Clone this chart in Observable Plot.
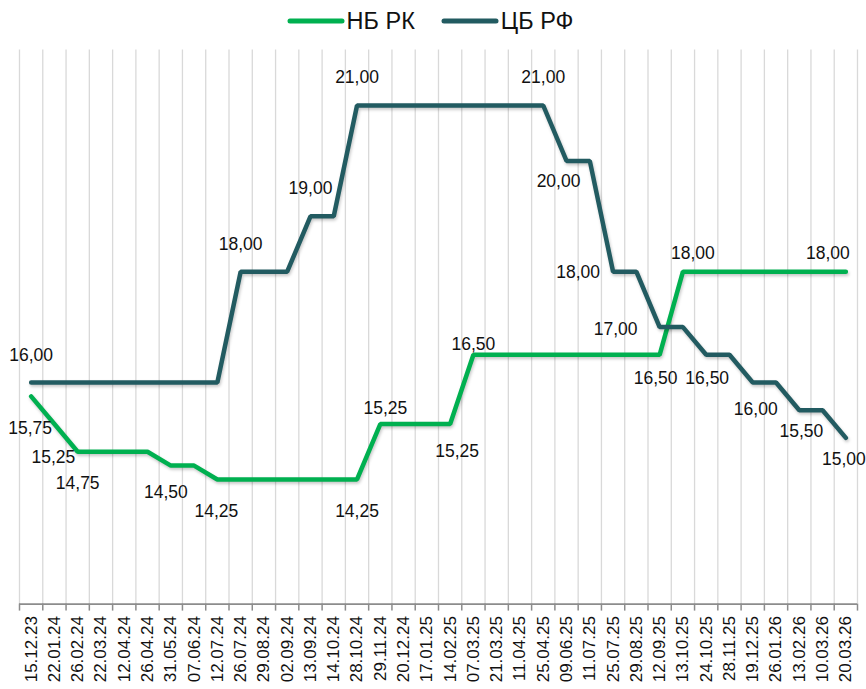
<!DOCTYPE html>
<html>
<head>
<meta charset="utf-8">
<script src="https://cdn.jsdelivr.net/npm/d3@7"></script>
<script src="https://cdn.jsdelivr.net/npm/@observablehq/plot@0.6"></script>
<style>
  html, body { margin: 0; padding: 0; background: #fff; }
  body { width: 866px; height: 689px; overflow: hidden; font-family: "Liberation Sans", Arial, sans-serif; }
  #legend { height: 42px; display: flex; justify-content: center; align-items: center; padding-right: 6px; box-sizing: border-box; }
  .item { display: flex; align-items: center; font-size: 23.5px; color: #111; }
  .item svg { margin-right: 2px; }
  .item + .item { margin-left: 26px; }
  #chart svg { display: block; }
</style>
</head>
<body>
<div id="legend"></div>
<div id="chart"></div>
<script>
// ---- data ----
const dates = ["15.12.23","22.01.24","26.02.24","22.03.24","12.04.24","26.04.24","31.05.24","07.06.24","12.07.24","26.07.24","29.08.24","02.09.24","13.09.24","14.10.24","28.10.24","29.11.24","20.12.24","17.01.25","14.02.25","07.03.25","21.03.25","11.04.25","25.04.25","09.06.25","11.07.25","25.07.25","29.08.25","12.09.25","13.10.25","24.10.25","28.11.25","19.12.25","26.01.26","13.02.26","10.03.26","20.03.26"];
const nbrk = [15.75,15.25,14.75,14.75,14.75,14.75,14.5,14.5,14.25,14.25,14.25,14.25,14.25,14.25,14.25,15.25,15.25,15.25,15.25,16.5,16.5,16.5,16.5,16.5,16.5,16.5,16.5,16.5,18,18,18,18,18,18,18,18];
const cbrf = [16,16,16,16,16,16,16,16,16,18,18,18,19,19,21,21,21,21,21,21,21,21,21,20,20,18,18,17,17,16.5,16.5,16,16,15.5,15.5,15];
const seriesNames = ["НБ РК", "ЦБ РФ"];
// labelled points by date
const nbrkLabelDates = ["15.12.23","22.01.24","26.02.24","31.05.24","12.07.24","28.10.24","29.11.24","14.02.25","07.03.25","12.09.25","13.10.25","20.03.26"];
const cbrfLabelDates = ["15.12.23","26.07.24","13.09.24","28.10.24","25.04.25","09.06.25","25.07.25","12.09.25","24.10.25","19.12.25","13.02.26","20.03.26"];

// ---- styling ----
const colors = {"НБ РК": "#00b050", "ЦБ РФ": "#225b61"};
// label offsets (style), in label order
const nbrkOffsets = [[-1,32],[-1,33],[0,32],[-5,27],[-1,32],[0,32],[5,-16],[7,27],[0,-10],[-4,24],[10,-18],[-18,-18]];
const cbrfOffsets = [[0,-27],[0,-27],[0,-28],[0,-28],[0,-28],[-8,20],[-35,1],[-44,2],[1,24],[3,27],[2,21],[-2,21]];

const W = 866, H = 647;
const mL = 19, mR = 9, mT = 7.6, mB = 85.4;
const step = (W - mL - mR) / dates.length;

const rows = [];
seriesNames.forEach((s, si) => {
  const vals = si === 0 ? nbrk : cbrf;
  dates.forEach((d, i) => rows.push({series: s, date: d, value: vals[i]}));
});
const fmt = v => v.toFixed(2).replace(".", ",");

function labelMarks(vals, labelDates, offsets) {
  return labelDates.map((d, k) => {
    const i = dates.indexOf(d);
    return Plot.text([{date: d, value: vals[i]}], {
      x: "date", y: "value", text: r => fmt(r.value),
      dx: offsets[k][0], dy: offsets[k][1],
      fontSize: 17.5, fill: "#111", textAnchor: "middle", lineAnchor: "middle"
    });
  });
}

// legend
const legend = d3.select("#legend");
seriesNames.forEach(s => {
  const it = legend.append("div").attr("class", "item");
  const sv = it.append("svg").attr("width", 58).attr("height", 10);
  sv.append("line").attr("x1", 3).attr("x2", 55).attr("y1", 5).attr("y2", 5)
    .attr("stroke", colors[s]).attr("stroke-width", 5).attr("stroke-linecap", "round");
  it.append("span").text(s);
});

const chart = Plot.plot({
  width: W, height: H,
  marginLeft: mL, marginRight: mR, marginTop: mT, marginBottom: mB,
  style: {fontFamily: '"Liberation Sans", Arial, sans-serif', fontSize: "17px", color: "#111", background: "#fff", overflow: "visible"},
  x: {type: "band", domain: dates, padding: 0, round: false, tickSize: 0, tickPadding: 12, tickRotate: -90, label: null},
  y: {domain: [12, 22], axis: null},
  marks: [
    Plot.ruleX(dates, {x: d => d, y1: 22, y2: 12, dx: -step / 2, stroke: "#d9d9d9", strokeWidth: 1.3}),
    Plot.ruleX([dates[dates.length - 1]], {x: d => d, y1: 22, y2: 12, dx: step / 2, stroke: "#d9d9d9", strokeWidth: 1.3}),
    Plot.ruleX(dates, {x: d => d, y1: 12, y2: 12, insetBottom: -7, dx: -step / 2, stroke: "#8c8c8c", strokeWidth: 1.5}),
    Plot.ruleX([dates[dates.length - 1]], {x: d => d, y1: 12, y2: 12, insetBottom: -7, dx: step / 2, stroke: "#8c8c8c", strokeWidth: 1.5}),
    Plot.ruleY([12], {stroke: "#8c8c8c", strokeWidth: 1.8}),
    Plot.line(rows, {x: "date", y: "value", z: "series", stroke: d => colors[d.series], strokeWidth: 4.5, strokeLinejoin: "miter", strokeLinecap: "round"}),
    ...labelMarks(nbrk, nbrkLabelDates, nbrkOffsets),
    ...labelMarks(cbrf, cbrfLabelDates, cbrfOffsets)
  ]
});
d3.select(chart).selectAll('g[aria-label="line"] path').style("filter", "drop-shadow(1.5px 2.5px 1.5px rgba(0,0,0,0.22))");
document.getElementById("chart").appendChild(chart);
</script>
</body>
</html>
